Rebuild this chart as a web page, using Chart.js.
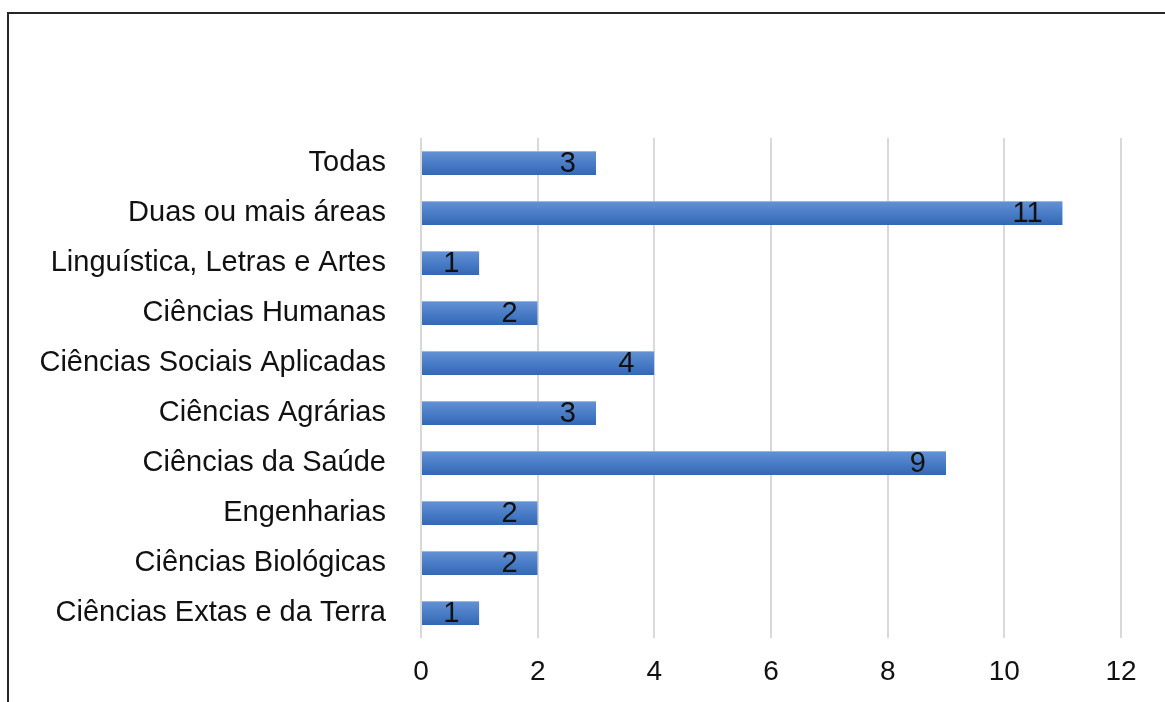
<!DOCTYPE html>
<html>
<head>
<meta charset="utf-8">
<script src="https://cdn.jsdelivr.net/npm/chart.js@4/dist/chart.umd.min.js"></script>
<style>
  html, body { margin: 0; padding: 0; background: #fff; overflow: hidden; }
  #wrap { position: relative; width: 1165px; height: 702px; }
  #frame { position: absolute; left: 7px; top: 12px; width: 1200px; height: 750px; border: 2px solid #262626; box-sizing: border-box; }
  canvas { position: absolute; left: 0; top: 0; }
</style>
</head>
<body>
<div id="wrap">
  <div id="frame"></div>
  <canvas id="myChart" width="1165" height="702"></canvas>
</div>
<script>
// data, top to bottom as in the picture
var areas = ["Todas", "Duas ou mais áreas", "Linguística, Letras e Artes", "Ciências Humanas",
             "Ciências Sociais Aplicadas", "Ciências Agrárias", "Ciências da Saúde", "Engenharias",
             "Ciências Biológicas", "Ciências Extas e da Terra"];
var counts = [3, 11, 1, 2, 4, 3, 9, 2, 2, 1];
var x_ticks = [0, 2, 4, 6, 8, 10, 12];

var font_name = "'Liberation Sans', Arial, sans-serif";

// bar fill: light on top, darker at the bottom
function bar_fill(context) {
    var chart = context.chart;
    var yScale = chart.scales.y;
    if (!yScale || yScale.top === undefined) return '#4a7cc6';
    var cy = yScale.getPixelForValue(context.dataIndex);
    var g = chart.ctx.createLinearGradient(0, cy - 12, 0, cy + 12);
    g.addColorStop(0, '#6592d3');
    g.addColorStop(0.5, '#4a7dc7');
    g.addColorStop(1, '#3568b4');
    return g;
}

// values written inside the end of each bar
var valueLabels = {
    id: 'valueLabels',
    afterDatasetsDraw: function(chart) {
        var ctx = chart.ctx;
        var meta = chart.getDatasetMeta(0);
        ctx.save();
        ctx.font = '29px ' + font_name;
        ctx.fillStyle = '#111';
        ctx.textAlign = 'right';
        ctx.textBaseline = 'middle';
        meta.data.forEach(function(bar, i) {
            ctx.fillText(String(counts[i]), bar.x - 20, bar.y + 1);
        });
        ctx.restore();
    }
};

var ctx = document.getElementById("myChart").getContext("2d");
var myChart = new Chart(ctx, {
    type: 'bar',
    data: {
        labels: areas,
        datasets: [{
            data: counts,
            backgroundColor: bar_fill,
            borderColor: 'rgba(140,175,225,0.9)',
            borderWidth: { top: 1, bottom: 0, left: 0, right: 0 },
            borderSkipped: false,
            categoryPercentage: 1,
            barPercentage: 0.48
        }]
    },
    options: {
        indexAxis: 'y',
        responsive: false,
        animation: false,
        layout: { padding: { top: 138, right: 44, left: 0, bottom: 0 } },
        plugins: {
            legend: { display: false },
            tooltip: { enabled: false }
        },
        scales: {
            x: {
                min: 0,
                max: 12,
                afterBuildTicks: function(axis) {
                    axis.ticks = x_ticks.map(function(v) { return { value: v }; });
                },
                afterFit: function(axis) { axis.height = 64; },
                grid: { color: '#d9d9d9', lineWidth: 2, drawTicks: false },
                border: { display: false },
                ticks: {
                    color: '#111',
                    padding: 17,
                    font: { size: 28, family: font_name }
                }
            },
            y: {
                afterFit: function(axis) { axis.width = 421; },
                grid: { display: false },
                border: { display: false },
                ticks: {
                    color: '#111',
                    padding: 27,
                    font: { size: 29, family: font_name }
                }
            }
        }
    },
    plugins: [valueLabels]
});
</script>
</body>
</html>
